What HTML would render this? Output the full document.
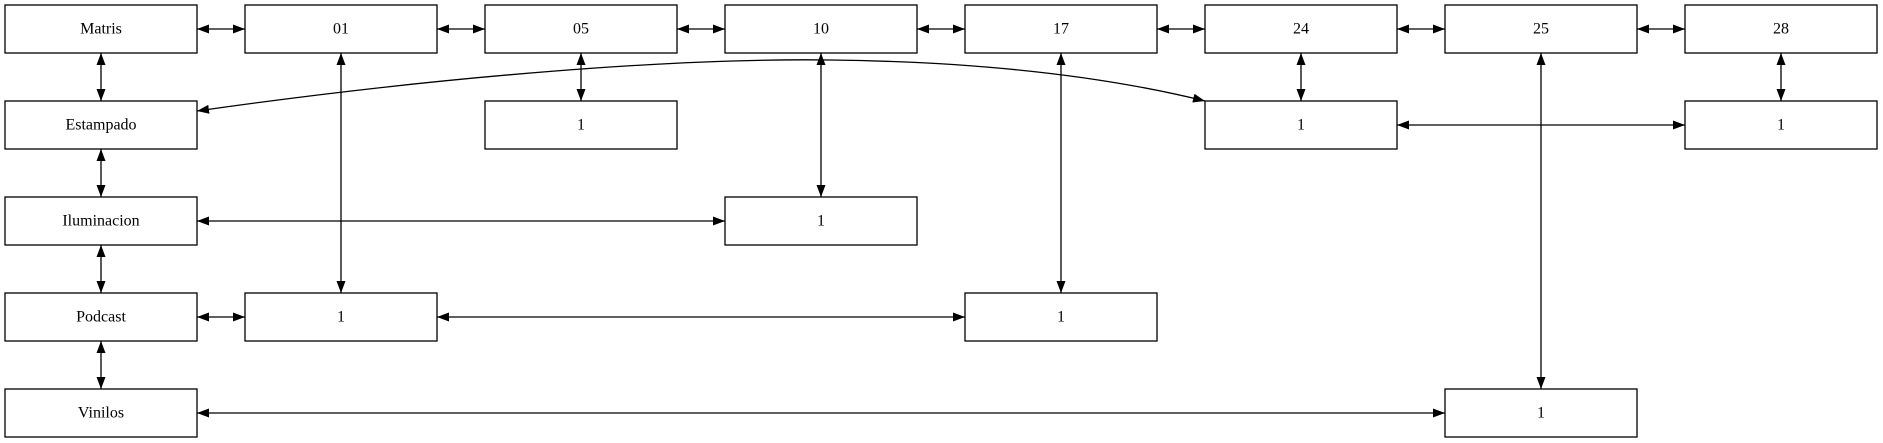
<!DOCTYPE html>
<html><head><meta charset="utf-8"><style>
html,body{margin:0;padding:0;background:#fff;}
svg{display:block;}
text{font-family:"Liberation Serif",serif;font-size:16px;text-anchor:middle;dominant-baseline:central;fill:#000;}
rect{fill:#fff;stroke:#000;stroke-width:1.3;}
.e{stroke:#000;stroke-width:1.3;fill:none;}
</style></head><body>
<svg width="1883" height="443" viewBox="0 0 1883 443" xmlns="http://www.w3.org/2000/svg">
<defs>
<marker id="a" viewBox="0 0 12 10" refX="12" refY="5" markerWidth="12" markerHeight="10" markerUnits="userSpaceOnUse" orient="auto-start-reverse">
<path d="M0,0.5 L12,5 L0,9.5 z" style="fill:#000;stroke:none"/>
</marker>
</defs>
<g class="e" marker-start="url(#a)" marker-end="url(#a)">
<line x1="197" y1="29" x2="245" y2="29"/>
<line x1="437" y1="29" x2="485" y2="29"/>
<line x1="677" y1="29" x2="725" y2="29"/>
<line x1="917" y1="29" x2="965" y2="29"/>
<line x1="1157" y1="29" x2="1205" y2="29"/>
<line x1="1397" y1="29" x2="1445" y2="29"/>
<line x1="1637" y1="29" x2="1685" y2="29"/>
<line x1="101" y1="53" x2="101" y2="101"/>
<line x1="101" y1="149" x2="101" y2="197"/>
<line x1="101" y1="245" x2="101" y2="293"/>
<line x1="101" y1="341" x2="101" y2="389"/>
<line x1="581" y1="53" x2="581" y2="101"/>
<line x1="1301" y1="53" x2="1301" y2="101"/>
<line x1="1781" y1="53" x2="1781" y2="101"/>
<line x1="341" y1="53" x2="341" y2="293"/>
<line x1="821" y1="53" x2="821" y2="197"/>
<line x1="1061" y1="53" x2="1061" y2="293"/>
<line x1="1541" y1="53" x2="1541" y2="389"/>
<line x1="1397" y1="125" x2="1685" y2="125"/>
<line x1="197" y1="221" x2="725" y2="221"/>
<line x1="197" y1="317" x2="245" y2="317"/>
<line x1="437" y1="317" x2="965" y2="317"/>
<line x1="197" y1="413" x2="1445" y2="413"/>
<path d="M197,111 C450,75 680,58 830,60 C1000,62 1120,80 1205,101"/>
</g>
<g>
<rect x="5" y="5" width="192" height="48"/><text x="101" y="29">Matris</text>
<rect x="245" y="5" width="192" height="48"/><text x="341" y="29">01</text>
<rect x="485" y="5" width="192" height="48"/><text x="581" y="29">05</text>
<rect x="725" y="5" width="192" height="48"/><text x="821" y="29">10</text>
<rect x="965" y="5" width="192" height="48"/><text x="1061" y="29">17</text>
<rect x="1205" y="5" width="192" height="48"/><text x="1301" y="29">24</text>
<rect x="1445" y="5" width="192" height="48"/><text x="1541" y="29">25</text>
<rect x="1685" y="5" width="192" height="48"/><text x="1781" y="29">28</text>
<rect x="5" y="101" width="192" height="48"/><text x="101" y="125">Estampado</text>
<rect x="485" y="101" width="192" height="48"/><text x="581" y="125">1</text>
<rect x="1205" y="101" width="192" height="48"/><text x="1301" y="125">1</text>
<rect x="1685" y="101" width="192" height="48"/><text x="1781" y="125">1</text>
<rect x="5" y="197" width="192" height="48"/><text x="101" y="221">Iluminacion</text>
<rect x="725" y="197" width="192" height="48"/><text x="821" y="221">1</text>
<rect x="5" y="293" width="192" height="48"/><text x="101" y="317">Podcast</text>
<rect x="245" y="293" width="192" height="48"/><text x="341" y="317">1</text>
<rect x="965" y="293" width="192" height="48"/><text x="1061" y="317">1</text>
<rect x="5" y="389" width="192" height="48"/><text x="101" y="413">Vinilos</text>
<rect x="1445" y="389" width="192" height="48"/><text x="1541" y="413">1</text>
</g>
</svg>
</body></html>
